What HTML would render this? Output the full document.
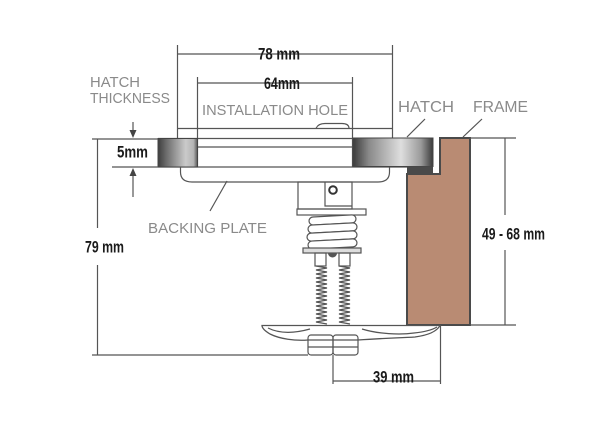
<!DOCTYPE html>
<html><head><meta charset="utf-8"><style>
html,body{margin:0;padding:0;background:#fff;}
svg{display:block;}
.l{stroke:#555;stroke-width:1.2;fill:none;}
.g{font-family:"Liberation Sans",sans-serif;fill:#8a8a8a;}
.d{font-family:"Liberation Sans",sans-serif;font-weight:bold;fill:#1a1a1a;font-size:16.5px;}
</style></head><body>
<svg width="600" height="440" viewBox="0 0 600 440" xmlns="http://www.w3.org/2000/svg">
<defs>
<linearGradient id="gl" x1="0" x2="1" y1="0" y2="0">
<stop offset="0" stop-color="#3e3e3e"/><stop offset="0.2" stop-color="#6a6a6a"/><stop offset="0.7" stop-color="#cacaca"/><stop offset="0.9" stop-color="#b4b4b4"/><stop offset="1" stop-color="#555"/>
</linearGradient>
<linearGradient id="gr" x1="0" x2="1" y1="0" y2="0">
<stop offset="0" stop-color="#3a3a3a"/><stop offset="0.2" stop-color="#8a8a8a"/><stop offset="0.6" stop-color="#dedede"/><stop offset="0.85" stop-color="#9a9a9a"/><stop offset="1" stop-color="#3a3a3a"/>
</linearGradient>
</defs>
<rect width="600" height="440" fill="#fff"/>

<!-- 78mm dimension -->
<line class="l" x1="177.5" y1="45" x2="177.5" y2="139"/>
<line class="l" x1="392.5" y1="45" x2="392.5" y2="139"/>
<line class="l" x1="177.5" y1="54" x2="392.5" y2="54"/>
<text class="d" x="258" y="59.5" textLength="42" lengthAdjust="spacingAndGlyphs">78 mm</text>
<!-- 64mm -->
<line class="l" x1="197.5" y1="77" x2="197.5" y2="167"/>
<line class="l" x1="352.5" y1="77" x2="352.5" y2="167"/>
<line class="l" x1="197.5" y1="83" x2="352.5" y2="83"/>
<text class="d" x="264" y="89" textLength="36" lengthAdjust="spacingAndGlyphs">64mm</text>

<!-- labels -->
<text class="g" x="90" y="87" font-size="14.5" textLength="50" lengthAdjust="spacingAndGlyphs">HATCH</text>
<text class="g" x="90" y="103" font-size="14.5" textLength="80" lengthAdjust="spacingAndGlyphs">THICKNESS</text>
<text class="g" x="202" y="115" font-size="15" textLength="146" lengthAdjust="spacingAndGlyphs">INSTALLATION HOLE</text>
<text class="g" x="398" y="112" font-size="16" textLength="56" lengthAdjust="spacingAndGlyphs">HATCH</text>
<text class="g" x="473" y="112" font-size="16" textLength="55" lengthAdjust="spacingAndGlyphs">FRAME</text>
<text class="g" x="148" y="233" font-size="15" textLength="119" lengthAdjust="spacingAndGlyphs">BACKING PLATE</text>
<line class="l" x1="425" y1="119" x2="407" y2="137"/>
<line class="l" x1="482" y1="119" x2="463" y2="137"/>
<line class="l" x1="227" y1="181" x2="210" y2="211"/>

<!-- mechanism top flange -->
<line class="l" x1="177.5" y1="128.5" x2="392.5" y2="128.5"/>
<path class="l" d="M316,128.5 Q318,123.5 325,123.5 L342,123.5 Q349,123.5 349,128.5"/>
<line class="l" x1="158" y1="138.5" x2="353" y2="138.5"/>
<line class="l" x1="197.5" y1="147" x2="353" y2="147"/>
<line class="l" x1="158" y1="167" x2="433" y2="167"/>

<!-- hatch plates -->
<rect x="158" y="138.5" width="39.5" height="28.5" fill="url(#gl)" stroke="#444" stroke-width="1"/>
<rect x="353" y="138" width="80" height="28.5" fill="url(#gr)" stroke="#444" stroke-width="1"/>
<rect x="407" y="166.5" width="26" height="7" fill="#4a4a4a"/>

<!-- frame -->
<path d="M440,138 L470,138 L470,325 L407,325 L407,174 L440,174 Z" fill="#b98b73" stroke="#4a4a4a" stroke-width="2"/>

<!-- 49-68 dimension -->
<line class="l" x1="470" y1="138" x2="516" y2="138"/>
<line class="l" x1="470" y1="325" x2="516" y2="325"/>
<line class="l" x1="505" y1="138" x2="505" y2="215"/>
<line class="l" x1="505" y1="250" x2="505" y2="325"/>
<text class="d" x="482" y="239.5" textLength="63" lengthAdjust="spacingAndGlyphs">49 - 68 mm</text>

<!-- left dims -->
<line class="l" x1="92" y1="139" x2="158" y2="139"/>
<line class="l" x1="112" y1="167" x2="158" y2="167"/>
<line class="l" x1="97.5" y1="139" x2="97.5" y2="228"/>
<line class="l" x1="97.5" y1="265" x2="97.5" y2="355"/>
<line class="l" x1="92" y1="355" x2="308" y2="355"/>
<text class="d" x="85" y="252.5" textLength="39" lengthAdjust="spacingAndGlyphs">79 mm</text>
<text class="d" x="117" y="157.5" textLength="31" lengthAdjust="spacingAndGlyphs">5mm</text>
<line class="l" x1="133" y1="122" x2="133" y2="132"/>
<path d="M129.5,130 L136.5,130 L133,138 Z" fill="#444"/>
<line class="l" x1="133" y1="174" x2="133" y2="197"/>
<path d="M129.5,176 L136.5,176 L133,168 Z" fill="#444"/>

<!-- backing plate -->
<path class="l" d="M180.5,167 L180.5,172 Q180.5,182 192,182 L378,182 Q389.5,182 389.5,172 L389.5,167" fill="#fff"/>

<!-- body -->
<rect class="l" x="298" y="182" width="54" height="27" fill="#fff"/>
<path class="l" d="M325,182 L325,206 L352,206"/>
<circle cx="333" cy="190" r="3.8" fill="none" stroke="#333" stroke-width="2"/>
<rect class="l" x="297" y="209" width="69" height="6" fill="#fff"/>

<!-- big spring -->
<g class="l" fill="#fff" stroke-width="1.4">
<rect x="309" y="216" width="47" height="8" rx="4" transform="rotate(-3 332 220)" fill="#fff"/>
<rect x="308" y="224" width="49" height="8" rx="4" transform="rotate(-3 332 228)" fill="#fff"/>
<rect x="307" y="232" width="50" height="8" rx="4" transform="rotate(-3 332 236)" fill="#fff"/>
<rect x="308" y="240" width="49" height="8" rx="4" transform="rotate(-3 332 244)" fill="#fff"/>
</g>
<rect x="303" y="248" width="58" height="5" fill="#ddd" stroke="#555" stroke-width="1.2"/>
<rect class="l" x="315" y="253" width="11" height="13" fill="#fff"/>
<rect class="l" x="339" y="253" width="11" height="13" fill="#fff"/>
<path d="M328,253 A4.5,4.5 0 0 0 337,253 Z" fill="#555"/>

<!-- small springs -->
<polyline fill="none" stroke="#555" stroke-width="1.3" points="316,266 327,268 316,270 327,272 316,274 327,276 316,278 327,280 316,282 327,284 316,286 327,288 316,290 327,292 316,294 327,296 316,298 327,300 316,302 327,304 316,306 327,308 316,310 327,312 316,314 327,316 316,318 327,320 316,322 327,324"/>
<polyline fill="none" stroke="#555" stroke-width="1.3" points="339,266 350,268 339,270 350,272 339,274 350,276 339,278 350,280 339,282 350,284 339,286 350,288 339,290 350,292 339,294 350,296 339,298 350,300 339,302 350,304 339,306 350,308 339,310 350,312 339,314 350,316 339,318 350,320 339,322 350,324"/>

<!-- lever -->
<path d="M262,325.5 L440,325.5 C437,331 430,335 415,337 C400,338 385,338 358,340 L308,340 C295,341 280,339 270,334 C265,331 262,328 262,325.5 Z" fill="#fff" stroke="#555" stroke-width="1.3"/>
<path class="l" d="M268,328 C278,333 292,334 310,329"/>
<path class="l" d="M362,329 C378,334 400,335 414,333 C424,332 432,330 437,327"/>

<!-- nuts -->
<rect class="l" x="308" y="335" width="25" height="20" rx="3" fill="#fff"/>
<rect class="l" x="333" y="335" width="25" height="20" rx="3" fill="#fff"/>
<line class="l" x1="308" y1="347" x2="358" y2="347"/>

<!-- 39 mm -->
<line class="l" x1="333" y1="355" x2="333" y2="384"/>
<line class="l" x1="440.5" y1="326" x2="440.5" y2="384"/>
<line class="l" x1="333" y1="381" x2="440.5" y2="381"/>
<text class="d" x="373" y="382.5" textLength="41" lengthAdjust="spacingAndGlyphs">39 mm</text>
</svg>
</body></html>
